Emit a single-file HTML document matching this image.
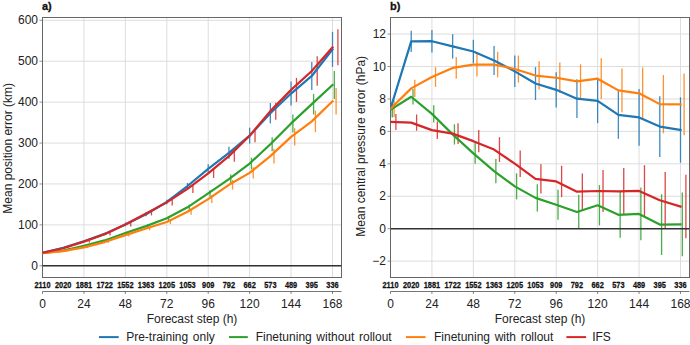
<!DOCTYPE html>
<html><head><meta charset="utf-8"><style>html,body{margin:0;padding:0;background:#fff;width:690px;height:345px;overflow:hidden}svg{display:block}text{font-family:"Liberation Sans",sans-serif}</style></head>
<body><svg width="690" height="345" viewBox="0 0 690 345"><line x1="42.50" y1="17.5" x2="42.50" y2="277.5" stroke="#d9d9d9" stroke-width="0.9"/>
<line x1="83.93" y1="17.5" x2="83.93" y2="277.5" stroke="#d9d9d9" stroke-width="0.9"/>
<line x1="125.36" y1="17.5" x2="125.36" y2="277.5" stroke="#d9d9d9" stroke-width="0.9"/>
<line x1="166.79" y1="17.5" x2="166.79" y2="277.5" stroke="#d9d9d9" stroke-width="0.9"/>
<line x1="208.21" y1="17.5" x2="208.21" y2="277.5" stroke="#d9d9d9" stroke-width="0.9"/>
<line x1="249.64" y1="17.5" x2="249.64" y2="277.5" stroke="#d9d9d9" stroke-width="0.9"/>
<line x1="291.07" y1="17.5" x2="291.07" y2="277.5" stroke="#d9d9d9" stroke-width="0.9"/>
<line x1="332.50" y1="17.5" x2="332.50" y2="277.5" stroke="#d9d9d9" stroke-width="0.9"/>
<line x1="42.5" y1="265.80" x2="341.5" y2="265.80" stroke="#d9d9d9" stroke-width="0.9"/>
<line x1="39.5" y1="265.80" x2="42.5" y2="265.80" stroke="#888" stroke-width="0.9"/>
<line x1="42.5" y1="224.88" x2="341.5" y2="224.88" stroke="#d9d9d9" stroke-width="0.9"/>
<line x1="39.5" y1="224.88" x2="42.5" y2="224.88" stroke="#888" stroke-width="0.9"/>
<line x1="42.5" y1="183.97" x2="341.5" y2="183.97" stroke="#d9d9d9" stroke-width="0.9"/>
<line x1="39.5" y1="183.97" x2="42.5" y2="183.97" stroke="#888" stroke-width="0.9"/>
<line x1="42.5" y1="143.05" x2="341.5" y2="143.05" stroke="#d9d9d9" stroke-width="0.9"/>
<line x1="39.5" y1="143.05" x2="42.5" y2="143.05" stroke="#888" stroke-width="0.9"/>
<line x1="42.5" y1="102.13" x2="341.5" y2="102.13" stroke="#d9d9d9" stroke-width="0.9"/>
<line x1="39.5" y1="102.13" x2="42.5" y2="102.13" stroke="#888" stroke-width="0.9"/>
<line x1="42.5" y1="61.22" x2="341.5" y2="61.22" stroke="#d9d9d9" stroke-width="0.9"/>
<line x1="39.5" y1="61.22" x2="42.5" y2="61.22" stroke="#888" stroke-width="0.9"/>
<line x1="42.5" y1="20.30" x2="341.5" y2="20.30" stroke="#d9d9d9" stroke-width="0.9"/>
<line x1="39.5" y1="20.30" x2="42.5" y2="20.30" stroke="#888" stroke-width="0.9"/>
<rect x="42.5" y="17.5" width="299.0" height="260.0" fill="none" stroke="#666" stroke-width="1"/>
<clipPath id="ca"><rect x="42.5" y="17.5" width="299.0" height="260.0"/></clipPath><g clip-path="url(#ca)">
<line x1="42.50" y1="252.21" x2="42.50" y2="253.21" stroke="#1f77b4" stroke-width="1.3" opacity="0.85"/>
<line x1="63.21" y1="247.20" x2="63.21" y2="248.40" stroke="#1f77b4" stroke-width="1.3" opacity="0.85"/>
<line x1="83.93" y1="240.45" x2="83.93" y2="242.05" stroke="#1f77b4" stroke-width="1.3" opacity="0.85"/>
<line x1="104.64" y1="232.68" x2="104.64" y2="235.08" stroke="#1f77b4" stroke-width="1.3" opacity="0.85"/>
<line x1="125.36" y1="222.67" x2="125.36" y2="226.27" stroke="#1f77b4" stroke-width="1.3" opacity="0.85"/>
<line x1="146.07" y1="212.24" x2="146.07" y2="216.24" stroke="#1f77b4" stroke-width="1.3" opacity="0.85"/>
<line x1="166.79" y1="199.67" x2="166.79" y2="204.27" stroke="#1f77b4" stroke-width="1.3" opacity="0.85"/>
<line x1="187.50" y1="182.81" x2="187.50" y2="189.21" stroke="#1f77b4" stroke-width="1.3" opacity="0.85"/>
<line x1="208.21" y1="164.23" x2="208.21" y2="173.43" stroke="#1f77b4" stroke-width="1.3" opacity="0.85"/>
<line x1="228.93" y1="146.87" x2="228.93" y2="158.87" stroke="#1f77b4" stroke-width="1.3" opacity="0.85"/>
<line x1="249.64" y1="127.78" x2="249.64" y2="143.58" stroke="#1f77b4" stroke-width="1.3" opacity="0.85"/>
<line x1="270.36" y1="102.98" x2="270.36" y2="123.38" stroke="#1f77b4" stroke-width="1.3" opacity="0.85"/>
<line x1="291.07" y1="81.54" x2="291.07" y2="105.54" stroke="#1f77b4" stroke-width="1.3" opacity="0.85"/>
<line x1="311.79" y1="61.95" x2="311.79" y2="89.95" stroke="#1f77b4" stroke-width="1.3" opacity="0.85"/>
<line x1="332.50" y1="31.85" x2="332.50" y2="66.85" stroke="#1f77b4" stroke-width="1.3" opacity="0.85"/>
<line x1="44.30" y1="252.62" x2="44.30" y2="253.62" stroke="#2ca02c" stroke-width="1.3" opacity="0.85"/>
<line x1="65.01" y1="250.06" x2="65.01" y2="251.26" stroke="#2ca02c" stroke-width="1.3" opacity="0.85"/>
<line x1="85.73" y1="245.05" x2="85.73" y2="246.45" stroke="#2ca02c" stroke-width="1.3" opacity="0.85"/>
<line x1="106.44" y1="239.43" x2="106.44" y2="241.43" stroke="#2ca02c" stroke-width="1.3" opacity="0.85"/>
<line x1="127.16" y1="231.67" x2="127.16" y2="234.47" stroke="#2ca02c" stroke-width="1.3" opacity="0.85"/>
<line x1="147.87" y1="224.31" x2="147.87" y2="227.91" stroke="#2ca02c" stroke-width="1.3" opacity="0.85"/>
<line x1="168.59" y1="216.24" x2="168.59" y2="220.44" stroke="#2ca02c" stroke-width="1.3" opacity="0.85"/>
<line x1="189.30" y1="204.64" x2="189.30" y2="209.94" stroke="#2ca02c" stroke-width="1.3" opacity="0.85"/>
<line x1="210.01" y1="190.13" x2="210.01" y2="196.63" stroke="#2ca02c" stroke-width="1.3" opacity="0.85"/>
<line x1="230.73" y1="174.56" x2="230.73" y2="183.56" stroke="#2ca02c" stroke-width="1.3" opacity="0.85"/>
<line x1="251.44" y1="157.71" x2="251.44" y2="169.31" stroke="#2ca02c" stroke-width="1.3" opacity="0.85"/>
<line x1="272.16" y1="137.28" x2="272.16" y2="151.28" stroke="#2ca02c" stroke-width="1.3" opacity="0.85"/>
<line x1="292.87" y1="114.41" x2="292.87" y2="132.41" stroke="#2ca02c" stroke-width="1.3" opacity="0.85"/>
<line x1="313.59" y1="93.88" x2="313.59" y2="114.48" stroke="#2ca02c" stroke-width="1.3" opacity="0.85"/>
<line x1="334.30" y1="70.95" x2="334.30" y2="98.95" stroke="#2ca02c" stroke-width="1.3" opacity="0.85"/>
<line x1="46.10" y1="252.62" x2="46.10" y2="253.62" stroke="#ff7f0e" stroke-width="1.3" opacity="0.85"/>
<line x1="66.81" y1="250.47" x2="66.81" y2="251.67" stroke="#ff7f0e" stroke-width="1.3" opacity="0.85"/>
<line x1="87.53" y1="246.69" x2="87.53" y2="248.09" stroke="#ff7f0e" stroke-width="1.3" opacity="0.85"/>
<line x1="108.24" y1="241.07" x2="108.24" y2="243.07" stroke="#ff7f0e" stroke-width="1.3" opacity="0.85"/>
<line x1="128.96" y1="233.71" x2="128.96" y2="236.51" stroke="#ff7f0e" stroke-width="1.3" opacity="0.85"/>
<line x1="149.67" y1="226.87" x2="149.67" y2="230.27" stroke="#ff7f0e" stroke-width="1.3" opacity="0.85"/>
<line x1="170.39" y1="220.02" x2="170.39" y2="224.02" stroke="#ff7f0e" stroke-width="1.3" opacity="0.85"/>
<line x1="191.10" y1="208.89" x2="191.10" y2="214.69" stroke="#ff7f0e" stroke-width="1.3" opacity="0.85"/>
<line x1="211.81" y1="195.11" x2="211.81" y2="203.11" stroke="#ff7f0e" stroke-width="1.3" opacity="0.85"/>
<line x1="232.53" y1="179.98" x2="232.53" y2="189.58" stroke="#ff7f0e" stroke-width="1.3" opacity="0.85"/>
<line x1="253.24" y1="167.32" x2="253.24" y2="178.52" stroke="#ff7f0e" stroke-width="1.3" opacity="0.85"/>
<line x1="273.96" y1="148.84" x2="273.96" y2="163.44" stroke="#ff7f0e" stroke-width="1.3" opacity="0.85"/>
<line x1="294.67" y1="128.21" x2="294.67" y2="145.61" stroke="#ff7f0e" stroke-width="1.3" opacity="0.85"/>
<line x1="315.39" y1="110.56" x2="315.39" y2="132.16" stroke="#ff7f0e" stroke-width="1.3" opacity="0.85"/>
<line x1="336.10" y1="88.11" x2="336.10" y2="114.51" stroke="#ff7f0e" stroke-width="1.3" opacity="0.85"/>
<line x1="47.90" y1="252.11" x2="47.90" y2="253.31" stroke="#d62728" stroke-width="1.3" opacity="0.85"/>
<line x1="68.61" y1="247.51" x2="68.61" y2="248.91" stroke="#d62728" stroke-width="1.3" opacity="0.85"/>
<line x1="89.33" y1="240.76" x2="89.33" y2="242.56" stroke="#d62728" stroke-width="1.3" opacity="0.85"/>
<line x1="110.04" y1="232.99" x2="110.04" y2="235.59" stroke="#d62728" stroke-width="1.3" opacity="0.85"/>
<line x1="130.76" y1="222.37" x2="130.76" y2="226.57" stroke="#d62728" stroke-width="1.3" opacity="0.85"/>
<line x1="151.47" y1="211.43" x2="151.47" y2="215.43" stroke="#d62728" stroke-width="1.3" opacity="0.85"/>
<line x1="172.19" y1="199.18" x2="172.19" y2="205.58" stroke="#d62728" stroke-width="1.3" opacity="0.85"/>
<line x1="192.90" y1="184.88" x2="192.90" y2="192.88" stroke="#d62728" stroke-width="1.3" opacity="0.85"/>
<line x1="213.61" y1="168.73" x2="213.61" y2="177.93" stroke="#d62728" stroke-width="1.3" opacity="0.85"/>
<line x1="234.33" y1="150.64" x2="234.33" y2="161.64" stroke="#d62728" stroke-width="1.3" opacity="0.85"/>
<line x1="255.04" y1="129.08" x2="255.04" y2="142.28" stroke="#d62728" stroke-width="1.3" opacity="0.85"/>
<line x1="275.76" y1="102.63" x2="275.76" y2="119.63" stroke="#d62728" stroke-width="1.3" opacity="0.85"/>
<line x1="296.47" y1="77.86" x2="296.47" y2="101.86" stroke="#d62728" stroke-width="1.3" opacity="0.85"/>
<line x1="317.19" y1="56.24" x2="317.19" y2="85.84" stroke="#d62728" stroke-width="1.3" opacity="0.85"/>
<line x1="337.90" y1="29.30" x2="337.90" y2="65.30" stroke="#d62728" stroke-width="1.3" opacity="0.85"/>
<line x1="42.5" y1="265.80" x2="341.5" y2="265.80" stroke="#333" stroke-width="1.5"/>
<polyline points="42.50,252.71 63.21,247.80 83.93,241.25 104.64,233.88 125.36,224.47 146.07,214.24 166.79,201.97 187.50,186.01 208.21,168.83 228.93,152.87 249.64,135.68 270.36,113.18 291.07,93.54 311.79,75.95 332.50,49.35" fill="none" stroke="#1f77b4" stroke-width="2.2" stroke-linejoin="round" stroke-linecap="square"/>
<polyline points="42.50,253.12 63.21,250.66 83.93,245.75 104.64,240.43 125.36,233.07 146.07,226.11 166.79,218.34 187.50,207.29 208.21,193.38 228.93,179.06 249.64,163.51 270.36,144.28 291.07,123.41 311.79,104.18 332.50,84.95" fill="none" stroke="#2ca02c" stroke-width="2.2" stroke-linejoin="round" stroke-linecap="square"/>
<polyline points="42.50,253.12 63.21,251.07 83.93,247.39 104.64,242.07 125.36,235.11 146.07,228.57 166.79,222.02 187.50,211.79 208.21,199.11 228.93,184.78 249.64,172.92 270.36,156.14 291.07,136.91 311.79,121.36 332.50,101.31" fill="none" stroke="#ff7f0e" stroke-width="2.2" stroke-linejoin="round" stroke-linecap="square"/>
<polyline points="42.50,252.71 63.21,248.21 83.93,241.66 104.64,234.29 125.36,224.47 146.07,213.43 166.79,202.38 187.50,188.88 208.21,173.33 228.93,156.14 249.64,135.68 270.36,111.13 291.07,89.86 311.79,71.04 332.50,47.30" fill="none" stroke="#d62728" stroke-width="2.2" stroke-linejoin="round" stroke-linecap="square"/>
</g>
<text x="38.0" y="269.80" text-anchor="end" font-family="Liberation Sans, sans-serif" font-size="12" fill="#222">0</text>
<text x="38.0" y="228.88" text-anchor="end" font-family="Liberation Sans, sans-serif" font-size="12" fill="#222">100</text>
<text x="38.0" y="187.97" text-anchor="end" font-family="Liberation Sans, sans-serif" font-size="12" fill="#222">200</text>
<text x="38.0" y="147.05" text-anchor="end" font-family="Liberation Sans, sans-serif" font-size="12" fill="#222">300</text>
<text x="38.0" y="106.13" text-anchor="end" font-family="Liberation Sans, sans-serif" font-size="12" fill="#222">400</text>
<text x="38.0" y="65.22" text-anchor="end" font-family="Liberation Sans, sans-serif" font-size="12" fill="#222">500</text>
<text x="38.0" y="24.30" text-anchor="end" font-family="Liberation Sans, sans-serif" font-size="12" fill="#222">600</text>
<text transform="translate(42.50,287.9) scale(0.86,1)" text-anchor="middle" font-family="Liberation Sans, sans-serif" font-size="8.6" font-weight="bold" fill="#111" stroke="#111" stroke-width="0.25">2110</text>
<text transform="translate(63.21,287.9) scale(0.86,1)" text-anchor="middle" font-family="Liberation Sans, sans-serif" font-size="8.6" font-weight="bold" fill="#111" stroke="#111" stroke-width="0.25">2020</text>
<text transform="translate(83.93,287.9) scale(0.86,1)" text-anchor="middle" font-family="Liberation Sans, sans-serif" font-size="8.6" font-weight="bold" fill="#111" stroke="#111" stroke-width="0.25">1881</text>
<text transform="translate(104.64,287.9) scale(0.86,1)" text-anchor="middle" font-family="Liberation Sans, sans-serif" font-size="8.6" font-weight="bold" fill="#111" stroke="#111" stroke-width="0.25">1722</text>
<text transform="translate(125.36,287.9) scale(0.86,1)" text-anchor="middle" font-family="Liberation Sans, sans-serif" font-size="8.6" font-weight="bold" fill="#111" stroke="#111" stroke-width="0.25">1552</text>
<text transform="translate(146.07,287.9) scale(0.86,1)" text-anchor="middle" font-family="Liberation Sans, sans-serif" font-size="8.6" font-weight="bold" fill="#111" stroke="#111" stroke-width="0.25">1363</text>
<text transform="translate(166.79,287.9) scale(0.86,1)" text-anchor="middle" font-family="Liberation Sans, sans-serif" font-size="8.6" font-weight="bold" fill="#111" stroke="#111" stroke-width="0.25">1205</text>
<text transform="translate(187.50,287.9) scale(0.86,1)" text-anchor="middle" font-family="Liberation Sans, sans-serif" font-size="8.6" font-weight="bold" fill="#111" stroke="#111" stroke-width="0.25">1053</text>
<text transform="translate(208.21,287.9) scale(0.86,1)" text-anchor="middle" font-family="Liberation Sans, sans-serif" font-size="8.6" font-weight="bold" fill="#111" stroke="#111" stroke-width="0.25">909</text>
<text transform="translate(228.93,287.9) scale(0.86,1)" text-anchor="middle" font-family="Liberation Sans, sans-serif" font-size="8.6" font-weight="bold" fill="#111" stroke="#111" stroke-width="0.25">792</text>
<text transform="translate(249.64,287.9) scale(0.86,1)" text-anchor="middle" font-family="Liberation Sans, sans-serif" font-size="8.6" font-weight="bold" fill="#111" stroke="#111" stroke-width="0.25">662</text>
<text transform="translate(270.36,287.9) scale(0.86,1)" text-anchor="middle" font-family="Liberation Sans, sans-serif" font-size="8.6" font-weight="bold" fill="#111" stroke="#111" stroke-width="0.25">573</text>
<text transform="translate(291.07,287.9) scale(0.86,1)" text-anchor="middle" font-family="Liberation Sans, sans-serif" font-size="8.6" font-weight="bold" fill="#111" stroke="#111" stroke-width="0.25">489</text>
<text transform="translate(311.79,287.9) scale(0.86,1)" text-anchor="middle" font-family="Liberation Sans, sans-serif" font-size="8.6" font-weight="bold" fill="#111" stroke="#111" stroke-width="0.25">395</text>
<text transform="translate(332.50,287.9) scale(0.86,1)" text-anchor="middle" font-family="Liberation Sans, sans-serif" font-size="8.6" font-weight="bold" fill="#111" stroke="#111" stroke-width="0.25">336</text>
<line x1="42.5" y1="291.5" x2="341.5" y2="291.5" stroke="#666" stroke-width="0.9"/>
<line x1="42.50" y1="291.5" x2="42.50" y2="293.8" stroke="#666" stroke-width="0.9"/>
<text x="42.50" y="308" text-anchor="middle" font-family="Liberation Sans, sans-serif" font-size="12" fill="#222">0</text>
<line x1="83.93" y1="291.5" x2="83.93" y2="293.8" stroke="#666" stroke-width="0.9"/>
<text x="83.93" y="308" text-anchor="middle" font-family="Liberation Sans, sans-serif" font-size="12" fill="#222">24</text>
<line x1="125.36" y1="291.5" x2="125.36" y2="293.8" stroke="#666" stroke-width="0.9"/>
<text x="125.36" y="308" text-anchor="middle" font-family="Liberation Sans, sans-serif" font-size="12" fill="#222">48</text>
<line x1="166.79" y1="291.5" x2="166.79" y2="293.8" stroke="#666" stroke-width="0.9"/>
<text x="166.79" y="308" text-anchor="middle" font-family="Liberation Sans, sans-serif" font-size="12" fill="#222">72</text>
<line x1="208.21" y1="291.5" x2="208.21" y2="293.8" stroke="#666" stroke-width="0.9"/>
<text x="208.21" y="308" text-anchor="middle" font-family="Liberation Sans, sans-serif" font-size="12" fill="#222">96</text>
<line x1="249.64" y1="291.5" x2="249.64" y2="293.8" stroke="#666" stroke-width="0.9"/>
<text x="249.64" y="308" text-anchor="middle" font-family="Liberation Sans, sans-serif" font-size="12" fill="#222">120</text>
<line x1="291.07" y1="291.5" x2="291.07" y2="293.8" stroke="#666" stroke-width="0.9"/>
<text x="291.07" y="308" text-anchor="middle" font-family="Liberation Sans, sans-serif" font-size="12" fill="#222">144</text>
<line x1="332.50" y1="291.5" x2="332.50" y2="293.8" stroke="#666" stroke-width="0.9"/>
<text x="332.50" y="308" text-anchor="middle" font-family="Liberation Sans, sans-serif" font-size="12" fill="#222">168</text>
<text x="192.00" y="323" text-anchor="middle" font-family="Liberation Sans, sans-serif" font-size="12" fill="#222">Forecast step (h)</text>
<text transform="translate(12.3,148.3) rotate(-90)" text-anchor="middle" font-family="Liberation Sans, sans-serif" font-size="12" fill="#222">Mean position error (km)</text>
<text x="42.0" y="9.5" font-family="Liberation Sans, sans-serif" font-size="11" font-weight="bold" fill="#111" stroke="#111" stroke-width="0.3">a)</text>
<line x1="390.50" y1="17.5" x2="390.50" y2="277.5" stroke="#d9d9d9" stroke-width="0.9"/>
<line x1="431.93" y1="17.5" x2="431.93" y2="277.5" stroke="#d9d9d9" stroke-width="0.9"/>
<line x1="473.36" y1="17.5" x2="473.36" y2="277.5" stroke="#d9d9d9" stroke-width="0.9"/>
<line x1="514.79" y1="17.5" x2="514.79" y2="277.5" stroke="#d9d9d9" stroke-width="0.9"/>
<line x1="556.21" y1="17.5" x2="556.21" y2="277.5" stroke="#d9d9d9" stroke-width="0.9"/>
<line x1="597.64" y1="17.5" x2="597.64" y2="277.5" stroke="#d9d9d9" stroke-width="0.9"/>
<line x1="639.07" y1="17.5" x2="639.07" y2="277.5" stroke="#d9d9d9" stroke-width="0.9"/>
<line x1="680.50" y1="17.5" x2="680.50" y2="277.5" stroke="#d9d9d9" stroke-width="0.9"/>
<line x1="390.5" y1="261.14" x2="689.5" y2="261.14" stroke="#d9d9d9" stroke-width="0.9"/>
<line x1="387.5" y1="261.14" x2="390.5" y2="261.14" stroke="#888" stroke-width="0.9"/>
<line x1="390.5" y1="228.70" x2="689.5" y2="228.70" stroke="#d9d9d9" stroke-width="0.9"/>
<line x1="387.5" y1="228.70" x2="390.5" y2="228.70" stroke="#888" stroke-width="0.9"/>
<line x1="390.5" y1="196.26" x2="689.5" y2="196.26" stroke="#d9d9d9" stroke-width="0.9"/>
<line x1="387.5" y1="196.26" x2="390.5" y2="196.26" stroke="#888" stroke-width="0.9"/>
<line x1="390.5" y1="163.82" x2="689.5" y2="163.82" stroke="#d9d9d9" stroke-width="0.9"/>
<line x1="387.5" y1="163.82" x2="390.5" y2="163.82" stroke="#888" stroke-width="0.9"/>
<line x1="390.5" y1="131.38" x2="689.5" y2="131.38" stroke="#d9d9d9" stroke-width="0.9"/>
<line x1="387.5" y1="131.38" x2="390.5" y2="131.38" stroke="#888" stroke-width="0.9"/>
<line x1="390.5" y1="98.94" x2="689.5" y2="98.94" stroke="#d9d9d9" stroke-width="0.9"/>
<line x1="387.5" y1="98.94" x2="390.5" y2="98.94" stroke="#888" stroke-width="0.9"/>
<line x1="390.5" y1="66.50" x2="689.5" y2="66.50" stroke="#d9d9d9" stroke-width="0.9"/>
<line x1="387.5" y1="66.50" x2="390.5" y2="66.50" stroke="#888" stroke-width="0.9"/>
<line x1="390.5" y1="34.06" x2="689.5" y2="34.06" stroke="#d9d9d9" stroke-width="0.9"/>
<line x1="387.5" y1="34.06" x2="390.5" y2="34.06" stroke="#888" stroke-width="0.9"/>
<rect x="390.5" y="17.5" width="299.0" height="260.0" fill="none" stroke="#666" stroke-width="1"/>
<clipPath id="cb"><rect x="390.5" y="17.5" width="299.0" height="260.0"/></clipPath><g clip-path="url(#cb)">
<line x1="390.50" y1="100.00" x2="390.50" y2="117.00" stroke="#1f77b4" stroke-width="1.3" opacity="0.85"/>
<line x1="411.21" y1="30.80" x2="411.21" y2="52.00" stroke="#1f77b4" stroke-width="1.3" opacity="0.85"/>
<line x1="431.93" y1="30.00" x2="431.93" y2="52.40" stroke="#1f77b4" stroke-width="1.3" opacity="0.85"/>
<line x1="452.64" y1="34.20" x2="452.64" y2="58.60" stroke="#1f77b4" stroke-width="1.3" opacity="0.85"/>
<line x1="473.36" y1="39.80" x2="473.36" y2="63.20" stroke="#1f77b4" stroke-width="1.3" opacity="0.85"/>
<line x1="494.07" y1="46.00" x2="494.07" y2="74.90" stroke="#1f77b4" stroke-width="1.3" opacity="0.85"/>
<line x1="514.79" y1="55.60" x2="514.79" y2="87.10" stroke="#1f77b4" stroke-width="1.3" opacity="0.85"/>
<line x1="535.50" y1="67.10" x2="535.50" y2="100.00" stroke="#1f77b4" stroke-width="1.3" opacity="0.85"/>
<line x1="556.21" y1="72.20" x2="556.21" y2="107.50" stroke="#1f77b4" stroke-width="1.3" opacity="0.85"/>
<line x1="576.93" y1="79.20" x2="576.93" y2="118.10" stroke="#1f77b4" stroke-width="1.3" opacity="0.85"/>
<line x1="597.64" y1="78.70" x2="597.64" y2="123.10" stroke="#1f77b4" stroke-width="1.3" opacity="0.85"/>
<line x1="618.36" y1="90.80" x2="618.36" y2="138.80" stroke="#1f77b4" stroke-width="1.3" opacity="0.85"/>
<line x1="639.07" y1="89.10" x2="639.07" y2="145.70" stroke="#1f77b4" stroke-width="1.3" opacity="0.85"/>
<line x1="659.79" y1="96.20" x2="659.79" y2="157.00" stroke="#1f77b4" stroke-width="1.3" opacity="0.85"/>
<line x1="680.50" y1="97.30" x2="680.50" y2="162.70" stroke="#1f77b4" stroke-width="1.3" opacity="0.85"/>
<line x1="392.30" y1="101.90" x2="392.30" y2="117.50" stroke="#2ca02c" stroke-width="1.3" opacity="0.85"/>
<line x1="413.01" y1="89.00" x2="413.01" y2="104.50" stroke="#2ca02c" stroke-width="1.3" opacity="0.85"/>
<line x1="433.73" y1="105.20" x2="433.73" y2="122.60" stroke="#2ca02c" stroke-width="1.3" opacity="0.85"/>
<line x1="454.44" y1="124.30" x2="454.44" y2="144.50" stroke="#2ca02c" stroke-width="1.3" opacity="0.85"/>
<line x1="475.16" y1="142.90" x2="475.16" y2="163.80" stroke="#2ca02c" stroke-width="1.3" opacity="0.85"/>
<line x1="495.87" y1="159.10" x2="495.87" y2="183.20" stroke="#2ca02c" stroke-width="1.3" opacity="0.85"/>
<line x1="516.59" y1="173.40" x2="516.59" y2="199.40" stroke="#2ca02c" stroke-width="1.3" opacity="0.85"/>
<line x1="537.30" y1="184.30" x2="537.30" y2="211.50" stroke="#2ca02c" stroke-width="1.3" opacity="0.85"/>
<line x1="558.01" y1="189.70" x2="558.01" y2="219.80" stroke="#2ca02c" stroke-width="1.3" opacity="0.85"/>
<line x1="578.73" y1="194.80" x2="578.73" y2="229.10" stroke="#2ca02c" stroke-width="1.3" opacity="0.85"/>
<line x1="599.44" y1="185.10" x2="599.44" y2="225.50" stroke="#2ca02c" stroke-width="1.3" opacity="0.85"/>
<line x1="620.16" y1="191.90" x2="620.16" y2="237.70" stroke="#2ca02c" stroke-width="1.3" opacity="0.85"/>
<line x1="640.87" y1="187.60" x2="640.87" y2="240.20" stroke="#2ca02c" stroke-width="1.3" opacity="0.85"/>
<line x1="661.59" y1="194.20" x2="661.59" y2="255.00" stroke="#2ca02c" stroke-width="1.3" opacity="0.85"/>
<line x1="682.30" y1="192.50" x2="682.30" y2="256.20" stroke="#2ca02c" stroke-width="1.3" opacity="0.85"/>
<line x1="394.10" y1="100.30" x2="394.10" y2="117.30" stroke="#ff7f0e" stroke-width="1.3" opacity="0.85"/>
<line x1="414.81" y1="79.70" x2="414.81" y2="97.10" stroke="#ff7f0e" stroke-width="1.3" opacity="0.85"/>
<line x1="435.53" y1="67.20" x2="435.53" y2="86.90" stroke="#ff7f0e" stroke-width="1.3" opacity="0.85"/>
<line x1="456.24" y1="57.00" x2="456.24" y2="78.80" stroke="#ff7f0e" stroke-width="1.3" opacity="0.85"/>
<line x1="476.96" y1="52.60" x2="476.96" y2="76.60" stroke="#ff7f0e" stroke-width="1.3" opacity="0.85"/>
<line x1="497.67" y1="51.70" x2="497.67" y2="77.30" stroke="#ff7f0e" stroke-width="1.3" opacity="0.85"/>
<line x1="518.39" y1="55.60" x2="518.39" y2="82.50" stroke="#ff7f0e" stroke-width="1.3" opacity="0.85"/>
<line x1="539.10" y1="61.30" x2="539.10" y2="89.80" stroke="#ff7f0e" stroke-width="1.3" opacity="0.85"/>
<line x1="559.81" y1="62.50" x2="559.81" y2="93.00" stroke="#ff7f0e" stroke-width="1.3" opacity="0.85"/>
<line x1="580.53" y1="64.30" x2="580.53" y2="98.40" stroke="#ff7f0e" stroke-width="1.3" opacity="0.85"/>
<line x1="601.24" y1="58.30" x2="601.24" y2="99.10" stroke="#ff7f0e" stroke-width="1.3" opacity="0.85"/>
<line x1="621.96" y1="68.60" x2="621.96" y2="112.20" stroke="#ff7f0e" stroke-width="1.3" opacity="0.85"/>
<line x1="642.67" y1="67.50" x2="642.67" y2="119.10" stroke="#ff7f0e" stroke-width="1.3" opacity="0.85"/>
<line x1="663.39" y1="75.00" x2="663.39" y2="133.30" stroke="#ff7f0e" stroke-width="1.3" opacity="0.85"/>
<line x1="684.10" y1="73.50" x2="684.10" y2="135.30" stroke="#ff7f0e" stroke-width="1.3" opacity="0.85"/>
<line x1="395.90" y1="113.95" x2="395.90" y2="129.95" stroke="#d62728" stroke-width="1.3" opacity="0.85"/>
<line x1="416.61" y1="114.50" x2="416.61" y2="130.70" stroke="#d62728" stroke-width="1.3" opacity="0.85"/>
<line x1="437.33" y1="121.40" x2="437.33" y2="138.90" stroke="#d62728" stroke-width="1.3" opacity="0.85"/>
<line x1="458.04" y1="123.20" x2="458.04" y2="144.00" stroke="#d62728" stroke-width="1.3" opacity="0.85"/>
<line x1="478.76" y1="130.10" x2="478.76" y2="152.20" stroke="#d62728" stroke-width="1.3" opacity="0.85"/>
<line x1="499.47" y1="137.20" x2="499.47" y2="161.90" stroke="#d62728" stroke-width="1.3" opacity="0.85"/>
<line x1="520.19" y1="150.40" x2="520.19" y2="177.00" stroke="#d62728" stroke-width="1.3" opacity="0.85"/>
<line x1="540.90" y1="164.20" x2="540.90" y2="193.60" stroke="#d62728" stroke-width="1.3" opacity="0.85"/>
<line x1="561.61" y1="165.80" x2="561.61" y2="197.10" stroke="#d62728" stroke-width="1.3" opacity="0.85"/>
<line x1="582.33" y1="173.40" x2="582.33" y2="209.90" stroke="#d62728" stroke-width="1.3" opacity="0.85"/>
<line x1="603.04" y1="170.10" x2="603.04" y2="211.90" stroke="#d62728" stroke-width="1.3" opacity="0.85"/>
<line x1="623.76" y1="167.90" x2="623.76" y2="214.70" stroke="#d62728" stroke-width="1.3" opacity="0.85"/>
<line x1="644.47" y1="165.25" x2="644.47" y2="216.55" stroke="#d62728" stroke-width="1.3" opacity="0.85"/>
<line x1="665.19" y1="172.10" x2="665.19" y2="228.50" stroke="#d62728" stroke-width="1.3" opacity="0.85"/>
<line x1="685.90" y1="174.80" x2="685.90" y2="238.30" stroke="#d62728" stroke-width="1.3" opacity="0.85"/>
<line x1="390.5" y1="228.70" x2="689.5" y2="228.70" stroke="#333" stroke-width="1.5"/>
<polyline points="390.50,108.50 411.21,41.40 431.93,41.20 452.64,46.40 473.36,51.50 494.07,60.45 514.79,71.35 535.50,83.55 556.21,89.85 576.93,98.65 597.64,100.90 618.36,114.80 639.07,117.40 659.79,126.60 680.50,130.00" fill="none" stroke="#1f77b4" stroke-width="2.2" stroke-linejoin="round" stroke-linecap="square"/>
<polyline points="390.50,109.70 411.21,96.75 431.93,113.90 452.64,134.40 473.36,153.35 494.07,171.15 514.79,186.40 535.50,197.90 556.21,204.75 576.93,211.95 597.64,205.30 618.36,214.80 639.07,213.90 659.79,224.60 680.50,224.35" fill="none" stroke="#2ca02c" stroke-width="2.2" stroke-linejoin="round" stroke-linecap="square"/>
<polyline points="390.50,108.80 411.21,88.40 431.93,77.05 452.64,67.90 473.36,64.60 494.07,64.50 514.79,69.05 535.50,75.55 556.21,77.75 576.93,81.35 597.64,78.70 618.36,90.40 639.07,93.30 659.79,104.15 680.50,104.40" fill="none" stroke="#ff7f0e" stroke-width="2.2" stroke-linejoin="round" stroke-linecap="square"/>
<polyline points="390.50,121.95 411.21,122.60 431.93,130.15 452.64,133.60 473.36,141.15 494.07,149.55 514.79,163.70 535.50,178.90 556.21,181.45 576.93,191.65 597.64,191.00 618.36,191.30 639.07,190.90 659.79,200.30 680.50,206.55" fill="none" stroke="#d62728" stroke-width="2.2" stroke-linejoin="round" stroke-linecap="square"/>
</g>
<text x="386.0" y="265.14" text-anchor="end" font-family="Liberation Sans, sans-serif" font-size="12" fill="#222">−2</text>
<text x="386.0" y="232.70" text-anchor="end" font-family="Liberation Sans, sans-serif" font-size="12" fill="#222">0</text>
<text x="386.0" y="200.26" text-anchor="end" font-family="Liberation Sans, sans-serif" font-size="12" fill="#222">2</text>
<text x="386.0" y="167.82" text-anchor="end" font-family="Liberation Sans, sans-serif" font-size="12" fill="#222">4</text>
<text x="386.0" y="135.38" text-anchor="end" font-family="Liberation Sans, sans-serif" font-size="12" fill="#222">6</text>
<text x="386.0" y="102.94" text-anchor="end" font-family="Liberation Sans, sans-serif" font-size="12" fill="#222">8</text>
<text x="386.0" y="70.50" text-anchor="end" font-family="Liberation Sans, sans-serif" font-size="12" fill="#222">10</text>
<text x="386.0" y="38.06" text-anchor="end" font-family="Liberation Sans, sans-serif" font-size="12" fill="#222">12</text>
<text transform="translate(390.50,287.9) scale(0.86,1)" text-anchor="middle" font-family="Liberation Sans, sans-serif" font-size="8.6" font-weight="bold" fill="#111" stroke="#111" stroke-width="0.25">2110</text>
<text transform="translate(411.21,287.9) scale(0.86,1)" text-anchor="middle" font-family="Liberation Sans, sans-serif" font-size="8.6" font-weight="bold" fill="#111" stroke="#111" stroke-width="0.25">2020</text>
<text transform="translate(431.93,287.9) scale(0.86,1)" text-anchor="middle" font-family="Liberation Sans, sans-serif" font-size="8.6" font-weight="bold" fill="#111" stroke="#111" stroke-width="0.25">1881</text>
<text transform="translate(452.64,287.9) scale(0.86,1)" text-anchor="middle" font-family="Liberation Sans, sans-serif" font-size="8.6" font-weight="bold" fill="#111" stroke="#111" stroke-width="0.25">1722</text>
<text transform="translate(473.36,287.9) scale(0.86,1)" text-anchor="middle" font-family="Liberation Sans, sans-serif" font-size="8.6" font-weight="bold" fill="#111" stroke="#111" stroke-width="0.25">1552</text>
<text transform="translate(494.07,287.9) scale(0.86,1)" text-anchor="middle" font-family="Liberation Sans, sans-serif" font-size="8.6" font-weight="bold" fill="#111" stroke="#111" stroke-width="0.25">1363</text>
<text transform="translate(514.79,287.9) scale(0.86,1)" text-anchor="middle" font-family="Liberation Sans, sans-serif" font-size="8.6" font-weight="bold" fill="#111" stroke="#111" stroke-width="0.25">1205</text>
<text transform="translate(535.50,287.9) scale(0.86,1)" text-anchor="middle" font-family="Liberation Sans, sans-serif" font-size="8.6" font-weight="bold" fill="#111" stroke="#111" stroke-width="0.25">1053</text>
<text transform="translate(556.21,287.9) scale(0.86,1)" text-anchor="middle" font-family="Liberation Sans, sans-serif" font-size="8.6" font-weight="bold" fill="#111" stroke="#111" stroke-width="0.25">909</text>
<text transform="translate(576.93,287.9) scale(0.86,1)" text-anchor="middle" font-family="Liberation Sans, sans-serif" font-size="8.6" font-weight="bold" fill="#111" stroke="#111" stroke-width="0.25">792</text>
<text transform="translate(597.64,287.9) scale(0.86,1)" text-anchor="middle" font-family="Liberation Sans, sans-serif" font-size="8.6" font-weight="bold" fill="#111" stroke="#111" stroke-width="0.25">662</text>
<text transform="translate(618.36,287.9) scale(0.86,1)" text-anchor="middle" font-family="Liberation Sans, sans-serif" font-size="8.6" font-weight="bold" fill="#111" stroke="#111" stroke-width="0.25">573</text>
<text transform="translate(639.07,287.9) scale(0.86,1)" text-anchor="middle" font-family="Liberation Sans, sans-serif" font-size="8.6" font-weight="bold" fill="#111" stroke="#111" stroke-width="0.25">489</text>
<text transform="translate(659.79,287.9) scale(0.86,1)" text-anchor="middle" font-family="Liberation Sans, sans-serif" font-size="8.6" font-weight="bold" fill="#111" stroke="#111" stroke-width="0.25">395</text>
<text transform="translate(680.50,287.9) scale(0.86,1)" text-anchor="middle" font-family="Liberation Sans, sans-serif" font-size="8.6" font-weight="bold" fill="#111" stroke="#111" stroke-width="0.25">336</text>
<line x1="390.5" y1="291.5" x2="689.5" y2="291.5" stroke="#666" stroke-width="0.9"/>
<line x1="390.50" y1="291.5" x2="390.50" y2="293.8" stroke="#666" stroke-width="0.9"/>
<text x="390.50" y="308" text-anchor="middle" font-family="Liberation Sans, sans-serif" font-size="12" fill="#222">0</text>
<line x1="431.93" y1="291.5" x2="431.93" y2="293.8" stroke="#666" stroke-width="0.9"/>
<text x="431.93" y="308" text-anchor="middle" font-family="Liberation Sans, sans-serif" font-size="12" fill="#222">24</text>
<line x1="473.36" y1="291.5" x2="473.36" y2="293.8" stroke="#666" stroke-width="0.9"/>
<text x="473.36" y="308" text-anchor="middle" font-family="Liberation Sans, sans-serif" font-size="12" fill="#222">48</text>
<line x1="514.79" y1="291.5" x2="514.79" y2="293.8" stroke="#666" stroke-width="0.9"/>
<text x="514.79" y="308" text-anchor="middle" font-family="Liberation Sans, sans-serif" font-size="12" fill="#222">72</text>
<line x1="556.21" y1="291.5" x2="556.21" y2="293.8" stroke="#666" stroke-width="0.9"/>
<text x="556.21" y="308" text-anchor="middle" font-family="Liberation Sans, sans-serif" font-size="12" fill="#222">96</text>
<line x1="597.64" y1="291.5" x2="597.64" y2="293.8" stroke="#666" stroke-width="0.9"/>
<text x="597.64" y="308" text-anchor="middle" font-family="Liberation Sans, sans-serif" font-size="12" fill="#222">120</text>
<line x1="639.07" y1="291.5" x2="639.07" y2="293.8" stroke="#666" stroke-width="0.9"/>
<text x="639.07" y="308" text-anchor="middle" font-family="Liberation Sans, sans-serif" font-size="12" fill="#222">144</text>
<line x1="680.50" y1="291.5" x2="680.50" y2="293.8" stroke="#666" stroke-width="0.9"/>
<text x="680.50" y="308" text-anchor="middle" font-family="Liberation Sans, sans-serif" font-size="12" fill="#222">168</text>
<text x="540.00" y="323" text-anchor="middle" font-family="Liberation Sans, sans-serif" font-size="12" fill="#222">Forecast step (h)</text>
<text transform="translate(365.2,146.3) rotate(-90)" text-anchor="middle" font-family="Liberation Sans, sans-serif" font-size="12" fill="#222">Mean central pressure error (hPa)</text>
<text x="390.0" y="9.5" font-family="Liberation Sans, sans-serif" font-size="11" font-weight="bold" fill="#111" stroke="#111" stroke-width="0.3">b)</text>
<line x1="99" y1="337.1" x2="118.7" y2="337.1" stroke="#1f77b4" stroke-width="2"/>
<text x="126.2" y="341.0" font-family="Liberation Sans, sans-serif" font-size="12" word-spacing="1.3" fill="#222">Pre-training only</text>
<line x1="229" y1="337.1" x2="247.8" y2="337.1" stroke="#2ca02c" stroke-width="2"/>
<text x="255.7" y="341.0" font-family="Liberation Sans, sans-serif" font-size="12" word-spacing="1.3" fill="#222">Finetuning without rollout</text>
<line x1="406" y1="337.1" x2="425.6" y2="337.1" stroke="#ff7f0e" stroke-width="2"/>
<text x="434.0" y="341.0" font-family="Liberation Sans, sans-serif" font-size="12" word-spacing="1.3" fill="#222">Finetuning with rollout</text>
<line x1="566.4" y1="337.1" x2="586.1" y2="337.1" stroke="#d62728" stroke-width="2"/>
<text x="592.2" y="341.0" font-family="Liberation Sans, sans-serif" font-size="12" word-spacing="1.3" fill="#222">IFS</text></svg></body></html>
